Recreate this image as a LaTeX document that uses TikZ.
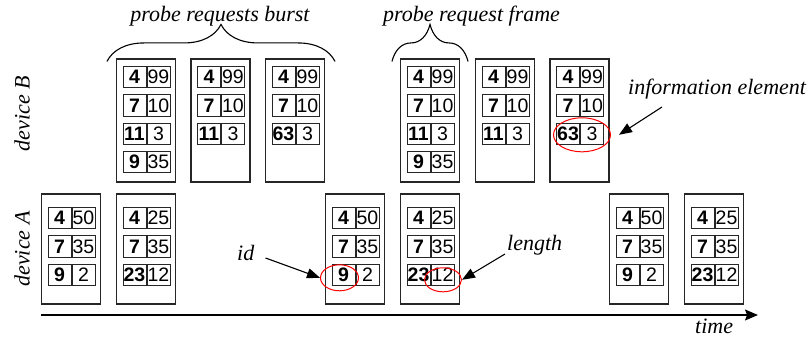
\documentclass[tikz,border=0pt]{standalone}
\usepackage{fontspec}
\setmainfont{Liberation Serif}
\setsansfont{Liberation Sans}
\usetikzlibrary{arrows.meta,positioning,calc,shapes.geometric,decorations.pathreplacing}

% one information element: id cell and length cell side by side
\newcommand{\elem}[4]{%
  \node[idcell] (#1) at (#2) {#3};
  \node[lencell,right=0pt of #1] (#1l) {#4};}
% stack of elements inside a frame: frame, first row offset, id/length list
\newcommand{\ielist}[3]{%
  \foreach \idv/\lenv [count=\row] in {#3} {%
    \elem{#1-\row}{$(#1.north)+(-11.5,{#2+28.3*(\row-1)})$}{\idv}{\lenv}}}

\begin{document}
\begin{tikzpicture}[x=1pt,y=-1pt,
    every node/.style={inner sep=0pt},
    pframe/.style={draw=black!85,line width=1.1pt,minimum width=59pt},
    bframe/.style={pframe,minimum height=123pt},
    aframe/.style={pframe,minimum height=110pt},
    cell/.style={draw=black!85,line width=1pt,minimum width=23pt,minimum height=21.5pt,
      font=\sffamily\fontsize{19.5}{20}\selectfont},
    idcell/.style={cell,font=\sffamily\bfseries\fontsize{19.5}{20}\selectfont},
    lencell/.style={cell},
    lbl/.style={font=\itshape\fontsize{22}{24}\selectfont},
    ring/.style={ellipse,draw=red,line width=1pt},
    note/.style={-{Triangle[length=13pt,width=10pt]},line width=1.1pt},
    axis/.style={-{Stealth[length=13pt,width=11pt,inset=2pt]},line width=1.2pt},
    brace/.style={decorate,decoration={brace,amplitude=37pt},line width=1.1pt}]
  \useasboundingbox (0,0) rectangle (812,342);

  % device B
  \node[bframe] (b1) at (146,120.5) {};
  \node[bframe] (b2) at (220.5,120.5) {};
  \node[bframe] (b3) at (295,120.5) {};
  \node[bframe] (b4) at (430,120.5) {};
  \node[bframe] (b5) at (505,120.5) {};
  \node[bframe] (b6) at (579.5,120.5) {};
  \ielist{b1}{18.75}{4/99,7/10,11/3,9/35}
  \ielist{b2}{18.75}{4/99,7/10,11/3}
  \ielist{b3}{18.75}{4/99,7/10,63/3}
  \ielist{b4}{18.75}{4/99,7/10,11/3,9/35}
  \ielist{b5}{18.75}{4/99,7/10,11/3}
  \ielist{b6}{18.75}{4/99,7/10,63/3}

  % device A
  \node[aframe] (a1) at (71,249) {};
  \node[aframe] (a2) at (146,249) {};
  \node[aframe] (a3) at (355,249) {};
  \node[aframe] (a4) at (430,249) {};
  \node[aframe] (a5) at (639,249) {};
  \node[aframe] (a6) at (714,249) {};
  \ielist{a1}{24.75}{4/50,7/35,9/2}
  \ielist{a2}{24.75}{4/25,7/35,23/12}
  \ielist{a3}{24.75}{4/50,7/35,9/2}
  \ielist{a4}{24.75}{4/25,7/35,23/12}
  \ielist{a5}{24.75}{4/50,7/35,9/2}
  \ielist{a6}{24.75}{4/25,7/35,23/12}

  \node[lbl,rotate=90] (devb) at (22,113.5) {device B};
  \node[lbl,rotate=90] (deva) at (22,249) {device A};

  % braces over the frames
  \draw[brace] ($(b1.north west)+(-9,3)$) -- ($(b3.north east)+(10,3)$);
  \draw[brace] ($(b4.north west)+(-8,3)$) -- ($(b4.north east)+(8,3)$);
  \node[lbl,anchor=base] (burstlbl) at (220,21.5) {probe requests burst};
  \node[lbl,anchor=base west] (framelbl) at (383,21.5) {probe request frame};

  % highlighted fields
  \node[ring,minimum width=57pt,minimum height=34pt] (iering) at ($(b6-3.east)+(2,1)$) {};
  \node[ring,minimum width=38pt,minimum height=26pt] (idring) at ($(a3-3)+(-4,3)$) {};
  \node[ring,minimum width=37pt,minimum height=24pt] (lenring) at ($(a4-3l)+(0.5,5)$) {};

  \node[lbl,anchor=base west] (ielbl) at (628,95) {information element};
  \node[lbl,anchor=base west] (idlbl) at (237,260) {id};
  \node[lbl,anchor=base west] (lenlbl) at (507,251) {length};
  \draw[note] (ielbl.base west) ++(34,12) -- ([xshift=8pt]iering.east);
  \draw[note] (idlbl.base east) ++(11,-2) -- (idring.west);
  \draw[note] (lenlbl.base west) ++(-2,3) -- (lenring.east);

  % time axis
  \coordinate (t0) at (41,315);
  \coordinate (t1) at (758,315);
  \draw[axis] (t0) -- (t1);
  \node[lbl,anchor=base west] (timelbl) at (695,333) {time};
\end{tikzpicture}
\end{document}
